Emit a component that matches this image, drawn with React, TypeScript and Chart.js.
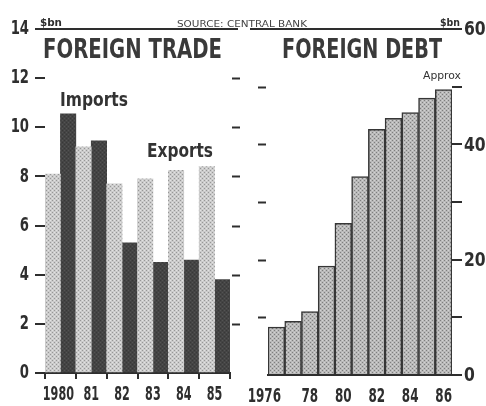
import React, { useEffect, useRef } from 'react';
import { Chart, registerables } from 'chart.js';
Chart.register(...registerables);

// ---------- data ----------
const tradeYears = ['1980', '81', '82', '83', '84', '85'];
const exportsBn = [8.1, 9.2, 7.7, 7.9, 8.25, 8.4];
const importsBn = [10.55, 9.45, 5.3, 4.5, 4.6, 3.8];
const tradeMax = 14;
const tradeStep = 2;

const debtYears = ['1976', '1977', '1978', '1979', '1980', '1981', '1982', '1983', '1984', '1985', '1986'];
const debtTickLabels = ['1976', '', '78', '', '80', '', '82', '', '84', '', '86'];
const debtBn = [8.3, 9.3, 11, 18.9, 26.3, 34.4, 42.6, 44.5, 45.5, 48, 49.5];
const debtMax = 60;
const debtStep = 10;
const debtLabelled = [0, 20, 40, 60];

const W = 486;
const H = 406;
const INK = '#2e2e2e';
const SANS = '"DejaVu Sans", "Liberation Sans", sans-serif';

function makePattern(base: string, dot: string, dot2: string): CanvasPattern | string {
  const c = document.createElement('canvas');
  c.width = 4;
  c.height = 4;
  const g = c.getContext('2d');
  if (!g) return base;
  g.fillStyle = base;
  g.fillRect(0, 0, 4, 4);
  g.fillStyle = dot;
  g.fillRect(0, 0, 1, 1);
  g.fillRect(2, 2, 1, 1);
  g.fillStyle = dot2;
  g.fillRect(2, 0, 1, 1);
  g.fillRect(0, 2, 1, 1);
  const p = g.createPattern(c, 'repeat');
  return p || base;
}

function fitText(ctx: CanvasRenderingContext2D, text: string, x: number, baseline: number, width: number, font: string, color: string) {
  ctx.save();
  ctx.font = font;
  ctx.fillStyle = color;
  ctx.textAlign = 'left';
  ctx.textBaseline = 'alphabetic';
  const m = ctx.measureText(text).width || 1;
  ctx.translate(x, baseline);
  ctx.scale(width / m, 1);
  ctx.fillText(text, 0, 0);
  ctx.restore();
}

function squeezed(ctx: CanvasRenderingContext2D, text: string, x: number, y: number, align: CanvasTextAlign, sx: number, font: string, color: string) {
  ctx.save();
  ctx.font = font;
  ctx.fillStyle = color;
  ctx.textAlign = align;
  ctx.textBaseline = 'middle';
  ctx.translate(x, y);
  ctx.scale(sx, 1);
  ctx.fillText(text, 0, 0);
  ctx.restore();
}

const LABEL_FONT = `bold 20px ${SANS}`;

const tradeOverlay = {
  id: 'tradeOverlay',
  afterDraw(chart: any) {
    const ctx = chart.ctx as CanvasRenderingContext2D;
    const area = chart.chartArea;
    const y = chart.scales.y;
    const x = chart.scales.x;
    ctx.save();
    ctx.strokeStyle = INK;
    ctx.lineWidth = 2;
    y.ticks.forEach((t: any) => {
      if (t.value <= 0 || t.value >= tradeMax) return;
      const py = Math.round(y.getPixelForValue(t.value)) + 0.5;
      ctx.beginPath();
      ctx.moveTo(area.right + 2, py);
      ctx.lineTo(area.right + 10, py);
      ctx.stroke();
    });
    const top = y.getPixelForValue(tradeMax);
    ctx.beginPath();
    ctx.moveTo(area.left - 8, top);
    ctx.lineTo(area.right + 8, top);
    ctx.stroke();
    ctx.restore();
    // axis labels
    y.ticks.forEach((t: any) => {
      squeezed(ctx, String(t.value), area.left - 16, y.getPixelForValue(t.value), 'right', 0.66, LABEL_FONT, INK);
    });
    tradeYears.forEach((lab, i) => {
      squeezed(ctx, lab, x.getPixelForTick(i) - (i === 0 ? 2 : 0), area.bottom + 22, 'center', 0.56, LABEL_FONT, INK);
    });
    fitText(ctx, '$bn', area.left - 5, top - 3, 22, `bold 11px ${SANS}`, INK);
    fitText(ctx, 'FOREIGN TRADE', area.left - 2, top + 29, 179, `bold 26px ${SANS}`, '#3a3a3a');
    fitText(ctx, 'Imports', area.left + 15, top + 77, 68, `bold 19px ${SANS}`, '#333');
    fitText(ctx, 'Exports', area.left + 102, top + 128, 66, `bold 19px ${SANS}`, '#333');
    fitText(ctx, 'SOURCE: CENTRAL BANK', area.left + 132, top - 2, 130, `9px ${SANS}`, '#444');
  },
};

const debtOverlay = {
  id: 'debtOverlay',
  afterDraw(chart: any) {
    const ctx = chart.ctx as CanvasRenderingContext2D;
    const area = chart.chartArea;
    const y = chart.scales.y;
    const x = chart.scales.x;
    ctx.save();
    ctx.strokeStyle = INK;
    ctx.lineWidth = 2;
    y.ticks.forEach((t: any) => {
      if (t.value <= 0 || t.value >= debtMax) return;
      const py = Math.round(y.getPixelForValue(t.value)) + 0.5;
      ctx.beginPath();
      ctx.moveTo(area.left - 10, py);
      ctx.lineTo(area.left - 2, py);
      ctx.stroke();
    });
    const top = y.getPixelForValue(debtMax);
    ctx.beginPath();
    ctx.moveTo(area.left - 18, top);
    ctx.lineTo(area.right + 10, top);
    ctx.stroke();
    ctx.restore();
    y.ticks.forEach((t: any) => {
      if (!debtLabelled.includes(t.value)) return;
      squeezed(ctx, String(t.value), area.right + 12, y.getPixelForValue(t.value) + 1, 'left', 0.78, LABEL_FONT, INK);
    });
    debtTickLabels.forEach((lab, i) => {
      if (!lab) return;
      squeezed(ctx, lab, x.getPixelForTick(i) - (i === 0 ? 12 : 0), area.bottom + 22, 'center', 0.6, LABEL_FONT, INK);
    });
    fitText(ctx, '$bn', area.right - 12, top - 3, 20, `bold 11px ${SANS}`, INK);
    fitText(ctx, 'FOREIGN DEBT', area.left + 14, top + 29, 160, `bold 26px ${SANS}`, '#3a3a3a');
    fitText(ctx, 'Approx', area.right - 29, top + 50, 38, `10px ${SANS}`, '#333');
  },
};

export default function App() {
  const tradeRef = useRef<HTMLCanvasElement | null>(null);
  const debtRef = useRef<HTMLCanvasElement | null>(null);

  useEffect(() => {
    if (!tradeRef.current || !debtRef.current) return;
    const lightPat = makePattern('#cbcbcb', '#979797', '#e2e2e2');
    const darkPat = makePattern('#444444', '#383838', '#535353');
    const debtPat = makePattern('#b9b9b9', '#7e7e7e', '#d2d2d2');

    const trade = new Chart(tradeRef.current, {
      type: 'bar',
      data: {
        labels: tradeYears,
        datasets: [
          { label: 'Exports', data: exportsBn, backgroundColor: lightPat as any, borderWidth: 0, categoryPercentage: 1, barPercentage: 1 },
          { label: 'Imports', data: importsBn, backgroundColor: darkPat as any, borderWidth: 0, categoryPercentage: 1, barPercentage: 1 },
        ],
      },
      options: {
        responsive: false,
        animation: false,
        devicePixelRatio: 1,
        layout: { padding: { top: 29, right: 256, left: 0, bottom: 0 } },
        plugins: { legend: { display: false }, tooltip: { enabled: false }, title: { display: false } },
        scales: {
          x: {
            offset: true,
            grid: { offset: true, drawOnChartArea: false, drawTicks: true, tickLength: 6, color: INK, lineWidth: 2 },
            border: { display: true, color: INK, width: 2 },
            ticks: { display: false },
            afterFit: (s: any) => { s.height = 33; },
          },
          y: {
            min: 0,
            max: tradeMax,
            ticks: { stepSize: tradeStep, display: false },
            grid: { drawOnChartArea: false, drawTicks: true, tickLength: 10, color: INK, lineWidth: 2 },
            border: { display: false },
            afterFit: (s: any) => { s.width = 45; },
          },
        },
      } as any,
      plugins: [tradeOverlay],
    });

    const debt = new Chart(debtRef.current, {
      type: 'bar',
      data: {
        labels: debtYears,
        datasets: [
          { label: 'Foreign debt', data: debtBn, backgroundColor: debtPat as any, borderColor: '#363636', borderWidth: 1.5, categoryPercentage: 1, barPercentage: 1 },
        ],
      },
      options: {
        responsive: false,
        animation: false,
        devicePixelRatio: 1,
        layout: { padding: { top: 29, right: 0, left: 268, bottom: 0 } },
        plugins: { legend: { display: false }, tooltip: { enabled: false }, title: { display: false } },
        scales: {
          x: {
            offset: true,
            grid: { display: false, drawOnChartArea: false, drawTicks: false },
            border: { display: true, color: INK, width: 2 },
            ticks: { display: false },
            afterFit: (s: any) => { s.height = 31; },
          },
          y: {
            position: 'right',
            min: 0,
            max: debtMax,
            ticks: { stepSize: debtStep, display: false },
            grid: { drawOnChartArea: false, drawTicks: true, tickLength: 10, color: INK, lineWidth: 2 },
            border: { display: false },
            afterFit: (s: any) => { s.width = 34; },
          },
        },
      } as any,
      plugins: [debtOverlay],
    });

    return () => {
      trade.destroy();
      debt.destroy();
    };
  }, []);

  return (
    <div style={{ position: 'fixed', left: 0, top: 0, width: W, height: H, background: '#ffffff', overflow: 'hidden' }}>
      <canvas ref={tradeRef} width={W} height={H} style={{ position: 'absolute', left: 0, top: 0, width: W, height: H }} />
      <canvas ref={debtRef} width={W} height={H} style={{ position: 'absolute', left: 0, top: 0, width: W, height: H }} />
    </div>
  );
}
